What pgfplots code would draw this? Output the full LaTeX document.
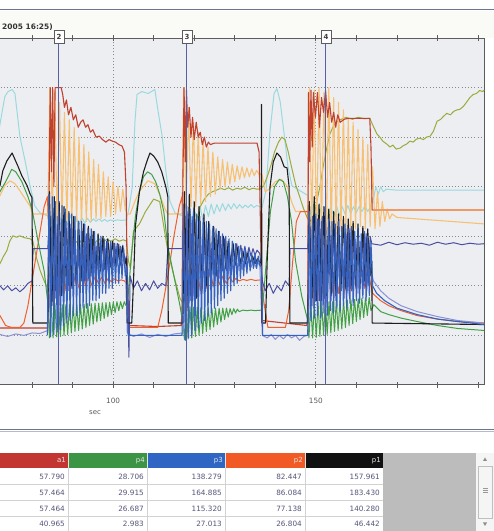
\documentclass[border=0pt]{standalone}
\usepackage{fontspec}
\setmainfont{DejaVu Sans}
\usepackage{pgfplots}
\pgfplotsset{compat=1.18}

\definecolor{plotbg}{HTML}{ECEEF2}
\definecolor{topbg}{HTML}{FAFAF7}
\definecolor{winline}{HTML}{6B7590}
\definecolor{framecol}{HTML}{5C5C5C}
\definecolor{gridcol}{HTML}{8A8A8A}
\definecolor{labelcol}{HTML}{5A5A5A}
\definecolor{cyanL}{HTML}{9ADADF}
\definecolor{lorange}{HTML}{F7C072}
\definecolor{orflat}{HTML}{EE9966}
\definecolor{olive}{HTML}{9AAA3C}
\definecolor{aonecol}{HTML}{C0412F}
\definecolor{ptwocol}{HTML}{F0602C}
\definecolor{pfourcol}{HTML}{42A045}
\definecolor{lavender}{HTML}{8B90D4}
\definecolor{navy}{HTML}{4A4E9E}
\definecolor{pthreecol}{HTML}{3462BE}
\definecolor{ponecol}{HTML}{1E1E1E}
\definecolor{markcol}{HTML}{5660A8}
\definecolor{hdra}{HTML}{C23530}
\definecolor{hdrg}{HTML}{3C9544}
\definecolor{hdrb}{HTML}{2F66C4}
\definecolor{hdro}{HTML}{F25A25}
\definecolor{hdrk}{HTML}{111111}
\definecolor{panel}{HTML}{BCBCBC}
\definecolor{valcol}{HTML}{55557A}
\definecolor{cellline}{HTML}{D2D2D2}

\begin{document}
\begin{tikzpicture}
\useasboundingbox (0,0) rectangle (494bp,531bp);
\clip (0,0) rectangle (494bp,531bp);
\fill[white] (0,0) rectangle (494bp,531bp);

% window header
\begin{scope}[x=1bp,y=-1bp,shift={(0bp,531bp)}]
  \fill[topbg] (0,11) rectangle (494,38);
  \draw[winline, line width=1.3bp] (0,9.8) -- (494,9.8);
  \node[anchor=east, inner sep=0pt, font=\bfseries\fontsize{7.5}{9}\selectfont, text=black!80] at (53,27) {2005 16:25)};
\end{scope}

\begin{axis}[
  at={(-24.77bp,146bp)}, anchor=south west,
  scale only axis, width=508.87bp, height=347bp,
  xmin=66, xmax=191.5, ymin=0, ymax=7,
  axis background/.style={fill=plotbg},
  axis line style={draw=framecol, line width=1bp},
  xtick={100,150},
  minor xtick={80,90,110,120,130,140,160,170,180,190},
  xtick pos=both, tick align=center,
  major tick length=6bp, minor tick length=6bp,
  every tick/.style={draw=framecol, line width=0.8bp},
  ytick={1,2,3,4,5,6}, yticklabels={}, ytick style={draw=none},
  xmajorgrids, ymajorgrids,
  major grid style={draw=gridcol, line width=0.9bp, dash pattern=on 1bp off 2.2bp},
  xticklabel style={font=\fontsize{7.3}{9}\selectfont, text=labelcol, yshift=-7bp},
  /pgf/number format/assume math mode=true,
  clip=false,
  every axis plot/.append style={line width=1bp, line join=round},
]

% cyan
\addplot[cyanL] coordinates {
(70,4.2) (72.1,5.26) (73.3,5.82) (74.1,5.92) (75.1,5.96) (75.8,5.88) (77.0,5.02) (78.3,4.52) (79.5,4.02) (80.7,3.61) (82.0,3.47) (83.9,3.41)
(84.6,3.2) (85.3,3.5) (86.0,3.15) (86.7,3.45) (87.4,3.2) (88.1,3.45) (88.8,3.22) (89.5,3.42) (90.2,3.25) (90.9,3.4) (91.6,3.25) (92.3,3.38) (93.0,3.27) (93.7,3.36) (94.4,3.28) (95.1,3.35) (95.8,3.3) (96.5,3.35) (97.2,3.3) (97.9,3.34) (98.6,3.3) (99.3,3.33) (100.0,3.31) (101.0,3.33) (102.0,3.32) (103.3,3.33)
(104.0,3.6) (104.7,3.98) (105.4,5.32) (105.9,5.86) (107.1,5.92) (108.6,5.88) (110.3,5.96) (111.1,5.52) (112.1,5.02) (113.0,4.32) (114.0,3.71) (115.3,3.47) (117.2,3.41)
(117.9,3.2) (118.6,3.5) (119.3,3.25) (120.0,3.55) (120.7,3.3) (121.4,3.6) (122.1,3.35) (122.8,3.62) (123.5,3.4) (124.2,3.65) (124.9,3.45) (125.6,3.64) (126.3,3.5) (127.0,3.66) (127.7,3.52) (128.4,3.65) (129.1,3.55) (129.8,3.66) (130.5,3.56) (131.2,3.64) (131.9,3.57) (132.6,3.63) (133.3,3.58) (134.0,3.64) (134.7,3.58) (135.4,3.62) (136.2,3.6)
(136.7,3.57) (137.7,3.92) (138.7,5.12) (139.7,5.88) (140.4,5.98) (141.2,5.72) (142.1,5.12) (143.1,4.42) (144.1,4.02) (146.1,3.92) (148.1,3.82)
(148.8,3.4) (149.5,3.7) (150.2,3.35) (150.9,3.65) (151.6,3.3) (152.3,3.6) (153.0,3.35) (153.7,3.6) (154.4,3.4) (155.1,3.62) (155.8,3.42) (156.5,3.6) (157.2,3.45) (157.9,3.62) (158.6,3.46) (159.3,3.6) (160.0,3.48) (160.7,3.6) (161.4,3.5) (162.1,3.62) (162.8,3.5) (163.5,3.6)
(164.2,3.75) (164.8,4.0) (165.4,3.85) (166.0,4.0) (166.6,3.9) (167.4,3.95) (170,3.93) (191.5,3.93)
};

% olive
\addplot[olive] coordinates {
(70,2.2) (72.1,2.45) (73.0,2.6) (73.8,2.71) (74.5,2.9) (75.3,3.01) (76.2,2.98) (77.0,3.01) (78.2,2.97) (79.5,2.95) (80.2,2.91) (81.0,2.6) (82.0,2.31) (83.0,2.1) (83.7,1.97) (84.5,2.3) (85.5,2.6) (86.5,2.75)
(87.5,2.8) (88.5,2.9) (89.5,2.82) (90.5,2.92) (91.5,2.85) (92.5,2.95) (93.5,2.86) (94.5,2.93) (95.5,2.87) (96.5,2.95) (97.5,2.88) (98.5,2.94) (99.5,2.9) (100.5,2.95) (101.5,2.9) (102.5,2.93) (103.3,2.9)
(103.8,2.5) (104.3,2.35) (105.0,3.1) (106.5,3.25) (108.0,3.5) (110.0,3.75) (111.5,3.7) (112.5,3.2) (113.5,2.7) (115.0,2.2) (116.5,1.75) (117.2,1.65)
(118.5,2.2) (119.5,2.8) (120.5,3.3) (121.5,3.6) (122.5,3.75) (123.5,3.85) (124.5,3.9) (125.5,3.93) (126.5,3.97) (127.5,3.94) (128.5,3.98) (129.5,3.93) (130.5,3.97) (131.5,3.95) (132.5,3.99) (133.5,3.94) (134.5,3.97) (135.5,3.95) (136.5,3.96)
(137.3,4.05) (138.0,4.2) (139.0,4.45) (139.8,4.7) (140.8,4.9) (141.6,5.0) (142.4,4.95) (143.2,4.7) (144.0,4.4) (145.0,4.05) (146.0,3.8) (147.0,3.55) (148.0,3.35) (149.0,3.3)
(150.0,3.6) (151.0,4.0) (151.8,4.4) (152.6,4.75) (153.4,5.05) (154.2,5.2) (155.0,5.3) (156.0,5.35) (157.5,5.4) (159.0,5.36) (160.5,5.4) (162.0,5.37) (163.3,5.38)
(164.0,5.25) (165.1,5.06) (165.8,5.0) (166.5,4.92) (167.5,4.86) (168.3,4.8) (169.0,4.84) (169.8,4.76) (170.8,4.78) (171.6,4.83) (172.4,4.86) (173.2,4.92) (174.0,4.9) (174.8,4.96) (175.7,4.98) (176.5,4.95) (177.3,5.0) (178.2,5.02) (179.0,5.12) (179.9,5.32) (180.8,5.36) (181.5,5.42) (182.3,5.48) (183.2,5.45) (184.0,5.52) (184.8,5.55) (185.5,5.56) (186.4,5.62) (187.3,5.72) (188.0,5.8) (188.8,5.86) (189.6,5.88) (190.4,5.94) (191.2,5.92) (191.5,5.95)
};

% light orange
\addplot[lorange, line width=1.1bp] coordinates {
(70,3.7) (72.1,3.82) (73.3,4.02) (74.6,4.12) (75.8,4.06) (77.0,3.92) (78.3,3.76) (79.5,3.61) (80.2,3.45) (83.9,3.45)
(84.4,6.0) (85.0,3.35) (85.6,5.95) (86.2,3.3) (86.8,5.7) (87.4,3.25) (88.0,5.5) (88.6,3.3) (89.2,5.35) (89.8,3.2) (90.4,5.2) (91.0,3.3) (91.6,5.0) (92.2,3.25) (92.8,4.85) (93.4,3.3) (94.0,4.7) (94.6,3.3) (95.2,4.55) (95.8,3.35) (96.4,4.45) (97.0,3.35) (97.6,4.3) (98.2,3.4) (98.8,4.2) (99.4,3.4) (100.0,4.1) (100.6,3.45) (101.2,4.0) (101.8,3.5) (102.4,3.95) (103.0,3.55)
(103.5,3.45) (104.2,3.45) (105.4,3.71) (106.6,3.92) (108.6,4.12) (110.3,4.06) (111.6,3.82) (112.8,3.55) (113.5,3.45) (117.0,3.45)
(117.4,6.0) (118.0,3.55) (118.6,5.6) (119.2,3.6) (119.8,5.3) (120.4,3.6) (121.0,5.1) (121.6,3.65) (122.2,4.95) (122.8,3.7) (123.4,4.8) (124.0,3.8) (124.6,4.7) (125.2,3.85) (125.8,4.6) (126.4,3.95) (127.0,4.55) (127.6,4.0) (128.2,4.5) (128.8,4.05) (129.4,4.45) (130.0,4.1) (130.6,4.42) (131.2,4.15) (131.8,4.4) (132.4,4.18) (133.0,4.38) (133.6,4.2) (134.2,4.36) (134.8,4.22) (135.4,4.33) (136.0,4.25)
(136.7,4.25) (137.5,3.9) (138.5,3.95) (140.0,4.1) (141.5,4.15) (143.0,4.0) (144.0,3.7) (145.0,3.5) (148.0,3.5)
(148.4,6.0) (149.0,3.2) (149.6,5.95) (150.2,3.1) (150.8,6.0) (151.4,3.15) (152.0,5.9) (152.6,3.05) (153.2,6.0) (153.8,3.1) (154.4,5.8) (155.0,3.05) (155.6,5.7) (156.2,3.1) (156.8,5.55) (157.4,3.15) (158.0,5.4) (158.6,3.1) (159.2,5.3) (159.8,3.15) (160.4,5.15) (161.0,3.2) (161.6,5.0) (162.2,3.15) (162.8,4.85) (163.4,3.2)
(164.0,4.4) (164.6,3.15) (165.2,3.9) (165.8,3.2) (166.4,3.7) (167.0,3.3) (167.6,3.55) (168.2,3.35) (168.8,3.45) (170,3.38) (175,3.35) (180,3.32) (185,3.29) (191.5,3.25)
};

% orange flat after the last cycle
\addplot[orflat, line width=1.2bp] coordinates {(163.9,3.53) (191.5,3.53)};

% a1
\addplot[aonecol, line width=1.1bp] coordinates {
(70,1.15) (83.9,1.15) (84.2,3.8) (84.5,6.0) (84.8,4.3) (85.1,6.0) (85.4,4.0) (85.7,6.0) (87.2,6.0) (87.6,5.85) (88.0,5.6) (88.5,5.75) (89.0,5.45) (89.6,5.6) (90.2,5.35) (90.8,5.45) (91.4,5.2) (92.0,5.3) (92.6,5.35) (93.2,5.2) (93.8,5.25) (94.4,5.1) (95.0,5.15) (95.8,5.0) (96.6,5.02) (97.4,4.95) (98.2,4.9) (99.0,4.95) (99.8,4.92) (100.6,4.9) (101.4,4.85) (102.2,4.82) (102.8,4.7) (103.2,4.0) (103.5,2.0) (104.0,1.2) (111.0,1.18) (116.8,1.2)
(117.0,1.5) (117.2,4.0) (117.5,6.0) (117.8,4.5) (118.1,5.95) (118.4,5.2) (118.8,5.6) (119.2,5.0) (119.6,5.4) (120.0,4.95) (120.5,5.3) (121.0,5.0) (121.5,5.1) (122.0,4.85) (122.5,5.0) (123.0,4.8) (123.5,4.9) (124.0,4.85) (125.0,4.88) (126.4,4.88) (135.5,4.88) (136.0,4.7) (136.4,3.0) (136.8,1.3) (147.8,1.2)
(148.0,1.4) (148.2,5.9) (148.5,4.5) (148.8,5.95) (149.1,4.8) (149.4,5.9) (149.9,5.4) (150.4,5.9) (150.9,5.2) (151.4,5.8) (151.9,5.5) (152.4,5.95) (152.9,5.4) (153.4,5.7) (153.9,5.3) (154.4,5.5) (154.9,5.2) (155.4,5.45) (156.0,5.3) (157.0,5.36) (158.0,5.38) (163.3,5.38) (163.6,4.8) (163.9,3.53)
};

% p2
\addplot[ptwocol] coordinates {
(70,1.6) (72.1,1.4) (73.5,1.2) (75,1.16) (77,1.16) (78,1.25) (79,1.6) (80,2.1) (81,2.6) (82,3.1) (83,3.6) (83.8,3.8)
(84.4,2.5) (85.2,1.9) (86.0,2.35) (86.8,1.85) (87.6,2.3) (88.4,1.9) (89.2,2.3) (90.0,1.95) (90.8,2.25) (91.6,1.95) (92.4,2.25) (93.2,2.0) (94.0,2.2) (94.8,2.0) (95.6,2.2) (96.4,2.05) (97.2,2.18) (98.0,2.05) (98.8,2.15) (99.6,2.08) (100.4,2.14) (101.2,2.1) (102.0,2.12) (102.8,2.1) (103.3,2.05)
(103.8,1.16) (111.0,1.16) (112.0,1.5) (113.5,2.2) (115.0,3.0) (116.3,3.6) (117.0,3.8)
(117.5,2.6) (118.3,1.8) (119.1,2.45) (119.9,1.85) (120.7,2.4) (121.5,1.9) (122.3,2.35) (123.1,1.95) (123.9,2.3) (124.7,2.0) (125.5,2.25) (126.3,2.02) (127.1,2.2) (127.9,2.05) (128.7,2.18) (129.5,2.08) (130.3,2.15) (131.1,2.1) (132.0,2.13) (133.0,2.11) (134.0,2.13) (135.0,2.11) (136.4,2.12)
(136.8,1.9) (137.5,1.5) (138.2,1.16) (142.5,1.16) (143.3,1.5) (144.3,2.5) (145.2,3.3) (146.2,3.5) (148.0,3.5)
(148.4,2.6) (149.2,1.75) (150.0,2.5) (150.8,1.8) (151.6,2.5) (152.4,1.8) (153.2,2.45) (154.0,1.85) (154.8,2.45) (155.6,1.85) (156.4,2.4) (157.2,1.9) (158.0,2.4) (158.8,1.9) (159.6,2.35) (160.4,1.95) (161.2,2.35) (162.0,1.95) (162.8,2.3) (163.6,2.0)
(164.0,1.85) (166,1.7) (168,1.6) (171,1.5) (175,1.4) (180,1.33) (185,1.28) (191.5,1.25)
};

% p4
\addplot[pfourcol] coordinates {
(70,3.6) (72.1,3.9) (73.5,4.1) (75.0,4.35) (76.0,4.3) (77.5,4.1) (79.0,3.8) (80.0,3.55) (81.5,2.9) (83.0,2.3) (84.0,1.6)
(84.3,0.95) (84.75,1.65) (85.2,0.95) (85.65,1.65) (86.1,0.97) (86.55,1.63) (87.0,0.98) (87.45,1.62) (87.9,1.0) (88.35,1.62) (88.8,1.02) (89.25,1.62) (89.7,1.05) (90.15,1.62) (90.6,1.08) (91.05,1.62) (91.5,1.1) (91.95,1.63) (92.4,1.13) (92.85,1.63) (93.3,1.16) (93.75,1.64) (94.2,1.2) (94.65,1.64) (95.1,1.23) (95.55,1.65) (96.0,1.27) (96.45,1.65) (96.9,1.3) (97.35,1.66) (97.8,1.34) (98.25,1.66) (98.7,1.38) (99.15,1.67) (99.6,1.42) (100.05,1.67) (100.5,1.46) (100.95,1.68) (101.4,1.5) (101.85,1.68) (102.3,1.54) (102.75,1.68) (103.2,1.6)
(103.6,1.7) (104.5,2.6) (105.5,3.4) (106.5,3.9) (107.5,4.2) (108.5,4.3) (109.5,4.25) (110.5,4.1) (111.5,3.85) (112.5,3.5) (113.5,2.8) (115.0,2.2) (116.5,1.6) (117.3,1.2)
(117.6,0.92) (118.05,1.6) (118.5,0.93) (118.95,1.58) (119.4,0.95) (119.85,1.57) (120.3,0.98) (120.75,1.57) (121.2,1.0) (121.65,1.56) (122.1,1.04) (122.55,1.56) (123.0,1.08) (123.45,1.56) (123.9,1.12) (124.35,1.55) (124.8,1.17) (125.25,1.55) (125.7,1.22) (126.15,1.55) (126.6,1.27) (127.05,1.55) (127.5,1.32) (127.95,1.55) (128.4,1.37) (128.85,1.54) (129.3,1.42) (129.75,1.54) (130.2,1.45) (130.65,1.53) (131.1,1.48) (132,1.51) (133,1.5) (134,1.51) (135,1.5) (136.5,1.51)
(136.8,1.5) (137.8,2.5) (138.8,3.5) (139.8,4.0) (141.0,4.15) (142.0,4.1) (143.0,3.8) (144.0,3.3) (145.0,2.5) (146.5,1.8) (148.0,1.3)
(148.3,0.95) (148.75,1.65) (149.2,0.95) (149.65,1.66) (150.1,0.96) (150.55,1.66) (151.0,0.98) (151.45,1.67) (151.9,1.0) (152.35,1.67) (152.8,1.02) (153.25,1.68) (153.7,1.05) (154.15,1.68) (154.6,1.08) (155.05,1.69) (155.5,1.1) (155.95,1.7) (156.4,1.13) (156.85,1.7) (157.3,1.16) (157.75,1.71) (158.2,1.2) (158.65,1.72) (159.1,1.24) (159.55,1.73) (160.0,1.28) (160.45,1.74) (160.9,1.32) (161.35,1.75) (161.8,1.36) (162.25,1.76) (162.7,1.4) (163.15,1.77) (163.6,1.5)
(164.3,1.62) (166,1.48) (168,1.42) (171,1.35) (175,1.28) (180,1.2) (185,1.14) (191.5,1.1)
};

% lavender
\addplot[lavender] coordinates {
(70,1.0) (72.1,1.02) (74,0.98) (76,1.03) (78,1.0) (80,1.05) (82,1.04) (83.9,1.1)
(84.3,1.6) (84.85,3.2) (85.4,1.65) (85.95,3.15) (86.5,1.75) (87.05,3.1) (87.6,1.8) (88.15,3.05) (88.7,1.9) (89.25,3.0) (89.8,1.95) (90.35,2.95) (90.9,2.0) (91.45,2.9) (92.0,2.05) (92.55,2.88) (93.1,2.1) (93.65,2.85) (94.2,2.15) (94.75,2.82) (95.3,2.2) (95.85,2.8) (96.4,2.25) (96.95,2.78) (97.5,2.3) (98.05,2.75) (98.6,2.32) (99.15,2.72) (99.7,2.35) (100.25,2.7) (100.8,2.38) (101.35,2.68) (101.9,2.4) (102.45,2.65) (103.0,2.45)
(103.5,1.05) (105,0.98) (107,1.03) (109,0.96) (111,1.02) (113,0.98) (115,1.03) (117.2,1.05)
(117.5,1.5) (118.05,3.1) (118.6,1.6) (119.15,3.05) (119.7,1.7) (120.25,3.0) (120.8,1.8) (121.35,2.95) (121.9,1.9) (122.45,2.9) (123.0,2.0) (123.55,2.85) (124.1,2.05) (124.65,2.8) (125.2,2.1) (125.75,2.75) (126.3,2.15) (126.85,2.7) (127.4,2.2) (127.95,2.65) (128.5,2.25) (129.05,2.62) (129.6,2.28) (130.15,2.6) (130.7,2.3) (131.25,2.58) (131.8,2.32) (132.35,2.55) (132.9,2.35) (133.45,2.52) (134.0,2.37) (134.55,2.5) (135.1,2.38) (135.65,2.48) (136.2,2.4)
(136.8,1.0) (138,0.95) (139,1.02) (140,0.92) (141,1.0) (142,0.93) (143,1.02) (144,0.95) (145,1.0) (146,0.9) (147,0.98) (148,1.0)
(148.3,1.5) (148.85,3.2) (149.4,1.55) (149.95,3.15) (150.5,1.6) (151.05,3.15) (151.6,1.6) (152.15,3.1) (152.7,1.65) (153.25,3.1) (153.8,1.7) (154.35,3.05) (154.9,1.7) (155.45,3.05) (156.0,1.75) (156.55,3.0) (157.1,1.75) (157.65,3.0) (158.2,1.8) (158.75,2.95) (159.3,1.8) (159.85,2.95) (160.4,1.85) (160.95,2.9) (161.5,1.85) (162.05,2.9) (162.6,1.9) (163.15,2.85) (163.7,2.3)
(164.2,2.1) (166,1.9) (168,1.75) (171,1.6) (175,1.48) (180,1.38) (185,1.3) (191.5,1.25)
};

% navy
\addplot[navy] coordinates {
(70,2.05) (72.1,2.0) (73.0,1.92) (74.0,2.0) (75.0,1.9) (76.0,1.96) (77.0,1.88) (78.0,1.95) (79.0,2.05) (80.0,2.1) (80.3,2.75) (83.9,2.75)
(84.4,3.5) (84.9,1.7) (85.4,3.45) (85.9,1.75) (86.4,3.4) (86.9,1.8) (87.4,3.35) (87.9,1.85) (88.4,3.3) (88.9,1.9) (89.4,3.25) (89.9,1.95) (90.4,3.2) (90.9,2.0) (91.4,3.15) (91.9,2.05) (92.4,3.1) (92.9,2.1) (93.4,3.05) (93.9,2.15) (94.4,3.0) (94.9,2.2) (95.4,2.98) (95.9,2.25) (96.4,2.95) (96.9,2.3) (97.4,2.92) (97.9,2.33) (98.4,2.9) (98.9,2.36) (99.4,2.88) (99.9,2.4) (100.4,2.86) (100.9,2.42) (101.4,2.84) (101.9,2.45) (102.4,2.82) (102.9,2.5)
(103.3,2.6) (103.6,2.1) (103.9,0.56) (104.2,2.2) (105.0,1.95) (106.0,2.1) (107.0,1.9) (108.0,2.05) (109.0,1.92) (110.0,2.1) (111.0,1.95) (112.0,2.05) (113.0,2.0) (113.5,2.75) (117.2,2.75)
(117.5,3.5) (118.0,1.6) (118.5,3.45) (119.0,1.7) (119.5,3.4) (120.0,1.8) (120.5,3.35) (121.0,1.9) (121.5,3.3) (122.0,1.95) (122.5,3.2) (123.0,2.05) (123.5,3.15) (124.0,2.1) (124.5,3.1) (125.0,2.2) (125.5,3.05) (126.0,2.25) (126.5,3.0) (127.0,2.3) (127.5,2.95) (128.0,2.35) (128.5,2.9) (129.0,2.4) (129.5,2.88) (130.0,2.45) (130.5,2.85) (131.0,2.5) (131.5,2.82) (132.0,2.55) (132.5,2.8) (133.0,2.58) (133.5,2.78) (134.0,2.6) (134.5,2.75) (135.0,2.62) (135.5,2.72) (136.2,2.65)
(136.8,2.1) (137.5,1.9) (138.5,2.05) (139.5,1.85) (140.5,2.0) (141.5,1.9) (142.5,2.1) (143.4,2.0) (143.6,2.75) (148,2.75)
(148.4,3.35) (148.9,1.65) (149.4,3.3) (149.9,1.7) (150.4,3.35) (150.9,1.7) (151.4,3.3) (151.9,1.75) (152.4,3.25) (152.9,1.75) (153.4,3.3) (153.9,1.8) (154.4,3.25) (154.9,1.8) (155.4,3.2) (155.9,1.85) (156.4,3.2) (156.9,1.85) (157.4,3.15) (157.9,1.9) (158.4,3.15) (158.9,1.9) (159.4,3.1) (159.9,1.95) (160.4,3.1) (160.9,1.95) (161.4,3.05) (161.9,2.0) (162.4,3.05) (162.9,2.0) (163.4,3.0)
(163.8,2.85) (166,2.82) (168,2.88) (170,2.83) (172,2.87) (174,2.84) (176,2.86) (178,2.82) (180,2.88) (182,2.84) (184,2.87) (186,2.83) (188,2.86) (190,2.84) (191.5,2.85)
};

% p1
\addplot[ponecol, line width=1.1bp] coordinates {
(70,3.8) (72.1,4.02) (72.8,4.32) (73.8,4.52) (75.1,4.68) (75.8,4.55) (76.5,4.42) (77.5,4.22) (78.8,4.02) (79.5,3.86) (80.0,3.78) (80.2,1.25) (83.9,1.25)
(84.3,3.9) (84.9,1.6) (85.5,3.8) (86.1,1.75) (86.7,3.7) (87.3,1.8) (87.9,3.6) (88.5,1.9) (89.1,3.5) (89.7,2.0) (90.3,3.4) (90.9,2.05) (91.5,3.3) (92.1,2.1) (92.7,3.25) (93.3,2.15) (93.9,3.2) (94.5,2.2) (95.1,3.1) (95.7,2.25) (96.3,3.05) (96.9,2.3) (97.5,3.0) (98.1,2.35) (98.7,2.95) (99.3,2.38) (99.9,2.9) (100.5,2.4) (101.1,2.85) (101.7,2.42) (102.3,2.8) (102.9,2.45)
(103.3,2.55) (103.5,1.25) (104.6,1.25) (105.0,2.0) (105.5,3.2) (106.5,3.9) (107.5,4.3) (108.5,4.55) (109.1,4.68) (110.0,4.62) (111.0,4.5) (112.0,4.3) (113.0,4.0) (113.5,3.8) (113.6,1.25) (117.2,1.25)
(117.6,3.9) (118.2,1.5) (118.8,3.85) (119.4,1.6) (120.0,3.7) (120.6,1.75) (121.2,3.6) (121.8,1.9) (122.4,3.45) (123.0,2.0) (123.6,3.3) (124.2,2.1) (124.8,3.2) (125.4,2.2) (126.0,3.1) (126.6,2.3) (127.2,3.0) (127.8,2.35) (128.4,2.9) (129.0,2.4) (129.6,2.85) (130.2,2.42) (130.8,2.78) (131.4,2.45) (132.0,2.7) (132.6,2.45) (133.2,2.65) (133.8,2.45) (134.4,2.6) (135.0,2.45) (135.6,2.55) (136.2,2.47)
(136.55,2.47) (136.6,5.66) (136.7,1.25) (137.6,1.25) (138.0,2.5) (138.7,4.0) (139.5,4.5) (140.4,4.68) (141.3,4.6) (142.2,4.4) (142.9,4.38) (143.4,4.0) (143.6,1.25) (148.0,1.25)
(148.4,3.7) (149.0,1.6) (149.6,3.8) (150.2,1.7) (150.8,3.65) (151.4,1.7) (152.0,3.6) (152.6,1.8) (153.2,3.55) (153.8,1.85) (154.4,3.5) (155.0,1.9) (155.6,3.45) (156.2,1.9) (156.8,3.4) (157.4,1.95) (158.0,3.35) (158.6,2.0) (159.2,3.3) (159.8,2.0) (160.4,3.25) (161.0,2.05) (161.6,3.2) (162.2,2.1) (162.8,3.15) (163.4,2.2)
(163.8,2.5) (163.9,1.25) (191.5,1.22)
};

% p3
\addplot[pthreecol, line width=1.1bp] coordinates {
(83.8,1.0)
(84.2,3.85) (84.6,0.97) (85.0,3.8) (85.4,1.02) (85.8,3.7) (86.2,1.07) (86.6,3.5) (87.0,1.12) (87.4,3.62) (87.8,1.2) (88.2,3.55) (88.6,1.25) (89.0,3.45) (89.4,1.3) (89.8,3.45) (90.2,1.4) (90.6,3.4) (91.0,1.4) (91.4,3.3) (91.8,1.45) (92.2,3.3) (92.6,1.55) (93.0,3.25) (93.4,1.55) (93.8,3.15) (94.2,1.6) (94.6,3.15) (95.0,1.7) (95.4,3.1) (95.8,1.7) (96.2,3.0) (96.6,1.75) (97.0,3.0) (97.4,1.85) (97.8,2.95) (98.2,1.85) (98.6,2.9) (99.0,1.95) (99.4,2.9) (99.8,1.95) (100.2,2.85) (100.6,2.05) (101.0,2.85) (101.4,2.05) (101.8,2.8) (102.2,2.15) (102.6,2.75) (103.0,2.2)
(103.4,2.4) (103.7,1.0) (117.0,1.0)
(117.4,3.65) (117.8,0.9) (118.2,3.6) (118.6,0.95) (119.0,3.55) (119.4,1.0) (119.8,3.5) (120.2,1.1) (120.6,3.45) (121.0,1.15) (121.4,3.4) (121.8,1.25) (122.2,3.35) (122.6,1.3) (123.0,3.3) (123.4,1.4) (123.8,3.25) (124.2,1.45) (124.6,3.2) (125.0,1.55) (125.4,3.15) (125.8,1.6) (126.2,3.1) (126.6,1.7) (127.0,3.05) (127.4,1.75) (127.8,3.0) (128.2,1.85) (128.6,2.95) (129.0,1.9) (129.4,2.9) (129.8,2.0) (130.2,2.85) (130.6,2.05) (131.0,2.8) (131.4,2.15) (131.8,2.75) (132.2,2.2) (132.6,2.75) (133.0,2.25) (133.4,2.7) (133.8,2.3) (134.2,2.65) (134.6,2.35) (135.0,2.65) (135.4,2.35) (135.8,2.6) (136.2,2.4)
(136.6,2.4) (136.9,1.0) (148.0,1.0)
(148.4,3.5) (148.8,1.3) (149.2,3.4) (149.6,1.35) (150.0,3.45) (150.4,1.4) (150.8,3.35) (151.2,1.35) (151.6,3.4) (152.0,1.45) (152.4,3.3) (152.8,1.4) (153.2,3.35) (153.6,1.5) (154.0,3.3) (154.4,1.45) (154.8,3.25) (155.2,1.55) (155.6,3.3) (156.0,1.5) (156.4,3.2) (156.8,1.6) (157.2,3.25) (157.6,1.55) (158.0,3.15) (158.4,1.65) (158.8,3.2) (159.2,1.6) (159.6,3.1) (160.0,1.7) (160.4,3.15) (160.8,1.65) (161.2,3.05) (161.6,1.75) (162.0,3.1) (162.4,1.7) (162.8,3.0) (163.2,1.8) (163.6,2.9)
(164.0,2.0) (165,1.85) (167,1.7) (170,1.55) (175,1.42) (180,1.33) (185,1.28) (191.5,1.22)
};

% markers 2, 3, 4
\addplot[markcol, line width=1bp] coordinates {(86.65,0) (86.65,7)};
\addplot[markcol, line width=1bp] coordinates {(118.21,0) (118.21,7)};
\addplot[markcol, line width=1bp] coordinates {(152.49,0) (152.49,7)};
\node[draw=framecol, fill=white, line width=0.8bp, minimum width=10bp, minimum height=13bp, inner sep=0pt, font=\bfseries\fontsize{7}{8}\selectfont, text=black!75, yshift=1.5bp] at (axis cs:86.65,7) {2};
\node[draw=framecol, fill=white, line width=0.8bp, minimum width=10bp, minimum height=13bp, inner sep=0pt, font=\bfseries\fontsize{7}{8}\selectfont, text=black!75, yshift=1.5bp] at (axis cs:118.21,7) {3};
\node[draw=framecol, fill=white, line width=0.8bp, minimum width=10bp, minimum height=13bp, inner sep=0pt, font=\bfseries\fontsize{7}{8}\selectfont, text=black!75, yshift=1.5bp] at (axis cs:152.49,7) {4};
\end{axis}

% axis label, separator and value table
\begin{scope}[x=1bp,y=-1bp,shift={(0bp,531bp)}]
  \node[font=\fontsize{7}{8}\selectfont, text=labelcol] at (95,413) {sec};
  \draw[winline, line width=1.2bp] (0,429.3) -- (494,429.3);
  \draw[winline!50, line width=0.6bp] (0,431.2) -- (494,431.2);
  % header
  \fill[hdra] (-1,452.7) rectangle (68,468);
  \fill[hdrg] (68,452.7) rectangle (147,468);
  \fill[hdrb] (147,452.7) rectangle (225,468);
  \fill[hdro] (225,452.7) rectangle (305,468);
  \fill[hdrk] (305,452.7) rectangle (383,468);
  \foreach \xx in {68,147,225,305}
    \draw[white!80!gray, line width=0.5bp] (\xx,452.7) -- (\xx,468);
  \foreach \xr/\lab in {66/a1,145/p4,223/p3,303/p2,381/p1}
    \node[anchor=east, inner sep=0pt, text=white!90!black, font=\fontsize{7}{8}\selectfont] at (\xr,460.5) {\lab};
  % cell grid
  \foreach \yy in {484.5,500.5,516.5}
    \draw[cellline, line width=0.7bp] (0,\yy) -- (383,\yy);
  \foreach \xx in {68,147,225,305}
    \draw[cellline, line width=0.7bp] (\xx,468) -- (\xx,531);
  % values
  \foreach \yy/\va/\vb/\vc/\vd/\ve in {476.5/57.790/28.706/138.279/82.447/157.961,
                                       492.5/57.464/29.915/164.885/86.084/183.430,
                                       508.5/57.464/26.687/115.320/77.138/140.280,
                                       524.3/40.965/2.983/27.013/26.804/46.442}{
    \node[anchor=east, inner sep=0pt, text=valcol, font=\fontsize{7.3}{8}\selectfont] at (65,\yy) {\va};
    \node[anchor=east, inner sep=0pt, text=valcol, font=\fontsize{7.3}{8}\selectfont] at (144,\yy) {\vb};
    \node[anchor=east, inner sep=0pt, text=valcol, font=\fontsize{7.3}{8}\selectfont] at (222,\yy) {\vc};
    \node[anchor=east, inner sep=0pt, text=valcol, font=\fontsize{7.3}{8}\selectfont] at (302,\yy) {\vd};
    \node[anchor=east, inner sep=0pt, text=valcol, font=\fontsize{7.3}{8}\selectfont] at (380,\yy) {\ve};
  }
  % grey panel and scroll bar
  \fill[panel] (383,452.7) rectangle (476,531);
  \fill[black!4] (476,452.7) rectangle (494,531);
  \draw[black!25, line width=0.6bp] (478.5,466) rectangle (492,518);
  \fill[black!45] (483,461) -- (487,461) -- (485,457.5) -- cycle;
  \fill[black!45] (483,522.5) -- (487,522.5) -- (485,526) -- cycle;
  \foreach \yy in {488.5,490.5,492.5}
    \draw[black!40, line width=0.5bp] (483,\yy) -- (487.5,\yy);
\end{scope}
\end{tikzpicture}
\end{document}
